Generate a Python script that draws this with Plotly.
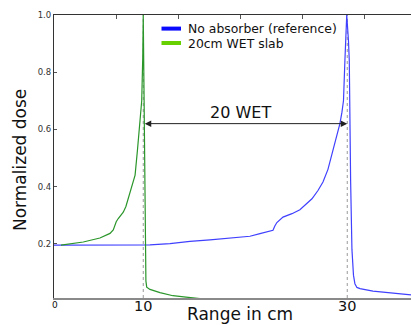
import plotly.graph_objects as go

# ---------------- data ----------------
series_names = ["No absorber (reference)", "20cm WET slab"]

# depth in cm, dose normalised to the Bragg peak
ref_depth = [1.25, 5.75, 9.97, 10.66, 12.62, 14.58, 16.54, 18.5, 20.46, 21.44,
             22.72, 22.9, 23.1, 23.7, 24.58, 25.36, 25.85, 26.54, 27.13, 27.62,
             28.11, 28.63, 28.99, 29.28, 29.48, 29.63, 29.77, 29.9, 29.95,
             30.12, 30.2, 30.33, 30.46, 30.61, 30.75, 30.95, 31.25, 32.52,
             34.19, 36.25]
ref_dose = [0.195, 0.195, 0.195, 0.196, 0.200, 0.208, 0.213, 0.219, 0.226, 0.235,
            0.247, 0.262, 0.274, 0.293, 0.305, 0.319, 0.334, 0.357, 0.386, 0.416,
            0.460, 0.527, 0.580, 0.620, 0.660, 0.700, 0.840, 0.950, 1.000,
            0.910, 0.840, 0.420, 0.180, 0.090, 0.060, 0.047, 0.043, 0.034,
            0.028, 0.021]

slab_depth = [1.93, 2.81, 4.12, 5.75, 6.74, 7.06, 7.2, 7.35, 7.55, 8.04, 8.3,
              8.53, 8.8, 9.02, 9.2, 9.43, 9.68, 9.85, 9.95, 10.0,
              10.07, 10.14, 10.2, 10.26, 10.34, 10.66, 11.64, 12.91, 14.19,
              14.87, 15.56]
slab_dose = [0.195, 0.199, 0.206, 0.220, 0.236, 0.248, 0.262, 0.277, 0.288, 0.310, 0.330,
             0.357, 0.385, 0.410, 0.440, 0.527, 0.620, 0.700, 0.850, 1.000,
             0.750, 0.450, 0.200, 0.070, 0.048, 0.040, 0.029, 0.018, 0.013,
             0.010, 0.008]

peak_depths = [10, 30]
x_tick_labels = ["0", "10", "30"]
y_tick_values = [0.2, 0.4, 0.6, 0.8, 1.0]
y_tick_labels = ["0.2", "0.4", "0.6", "0.8", "1.0"]
wet_label = "20 WET"
x_title = "Range in cm"
y_title = "Normalized dose"

# ---------------- layout constants ----------------
W, H = 411, 325
ML, MR, MT, MB = 54, 0, 15, 27
X_RANGE = [1.25, 36.25]
Y_RANGE = [0.01, 1.0]
FONT = "DejaVu Sans"
top_tick_depths = [7.35, 13.5, 19.58, 25.66, 31.73]
arrow_level = 0.62

PW, PH = W - ML - MR, H - MT - MB


def px_x(px):
    return (px - ML) / PW


def px_y(py):
    return (H - MB - py) / PH


fig = go.Figure()

fig.add_trace(go.Scatter(x=ref_depth, y=ref_dose, mode="lines", name=series_names[0],
                         line=dict(color="#4040ff", width=1.2), showlegend=False))
fig.add_trace(go.Scatter(x=slab_depth, y=slab_dose, mode="lines", name=series_names[1],
                         line=dict(color="#2a962a", width=1.2), showlegend=False))
# helper trace so that the top axis is drawn
fig.add_trace(go.Scatter(x=[None], y=[None], xaxis="x2", showlegend=False, hoverinfo="skip"))

shapes = []
for d in peak_depths:
    shapes.append(dict(type="line", xref="x", yref="paper", x0=d, x1=d, y0=0, y1=1,
                       line=dict(color="#999999", width=1, dash="dot"), layer="below"))

# legend (drawn manually to match compact spacing)
legend_colors = ["#0a0aff", "#66d000"]
legend_rows = [28.6, 43]
annotations = []
for name, col, row in zip(series_names, legend_colors, legend_rows):
    shapes.append(dict(type="line", xref="paper", yref="paper",
                       x0=px_x(161.5), x1=px_x(181), y0=px_y(row), y1=px_y(row),
                       line=dict(color=col, width=4)))
    annotations.append(dict(xref="paper", yref="paper", x=px_x(187), y=px_y(row),
                            xanchor="left", yanchor="middle", text=name, showarrow=False,
                            borderpad=0,
                            font=dict(family=FONT, size=12.4, color="#111111")))

# x tick labels (placed as text just under the axis)
x_label_pos = [X_RANGE[0] + 0.05, peak_depths[0], peak_depths[1]]
x_label_size = [9, 14.5, 14.5]
x_label_shift = [-1, 1.5, 1.5]
for lab, pos, sz, sh in zip(x_tick_labels, x_label_pos, x_label_size, x_label_shift):
    annotations.append(dict(xref="x", yref="paper", x=pos, y=0, yanchor="top",
                            xanchor="center", yshift=sh, text=lab, showarrow=False,
                            borderpad=0,
                            font=dict(family=FONT, size=sz, color="#111111")))

# double arrow between peaks
annotations.append(dict(x=peak_depths[1], y=arrow_level, ax=peak_depths[0], ay=arrow_level,
                        xref="x", yref="y", axref="x", ayref="y", text="",
                        showarrow=True, arrowhead=2, arrowside="end+start", arrowsize=1.3,
                        arrowwidth=1, arrowcolor="#222222", standoff=0, startstandoff=0))
annotations.append(dict(x=(peak_depths[0] + peak_depths[1]) / 2 - 0.5, y=0.658,
                        xref="x", yref="y", text=wet_label, showarrow=False,
                        xanchor="center", yanchor="middle",
                        font=dict(family=FONT, size=16, color="#111111")))
# axis titles
annotations.append(dict(xref="paper", yref="paper", x=px_x(240), y=px_y(314),
                        text=x_title, showarrow=False, xanchor="center", yanchor="middle",
                        font=dict(family=FONT, size=17, color="#111111")))
annotations.append(dict(xref="paper", yref="paper", x=px_x(19.5), y=px_y(160.5),
                        text=y_title, showarrow=False, textangle=-90,
                        xanchor="center", yanchor="middle",
                        font=dict(family=FONT, size=17, color="#111111")))

fig.update_layout(
    width=W, height=H,
    margin=dict(l=ML, r=MR, t=MT, b=MB),
    paper_bgcolor="white", plot_bgcolor="white",
    font=dict(family=FONT, color="#222222"),
    showlegend=False,
    shapes=shapes,
    annotations=annotations,
    xaxis=dict(range=X_RANGE, showgrid=False, zeroline=False,
               showline=True, linecolor="#8a8a8a", linewidth=2,
               showticklabels=False, ticks=""),
    xaxis2=dict(range=X_RANGE, overlaying="x", side="top", anchor="y",
                showgrid=False, zeroline=False, showline=True,
                linecolor="#333333", linewidth=1,
                tickmode="array", tickvals=top_tick_depths, ticks="inside",
                ticklen=4, tickcolor="#555555", showticklabels=False),
    yaxis=dict(range=Y_RANGE, showgrid=False, zeroline=False,
               showline=True, linecolor="#333333", linewidth=1.2,
               tickmode="array", tickvals=y_tick_values, ticktext=y_tick_labels,
               ticks="inside", ticklen=3, tickcolor="#555555",
               tickfont=dict(family=FONT, size=8.5, color="#333333")),
)

fig.write_html("out.html")
